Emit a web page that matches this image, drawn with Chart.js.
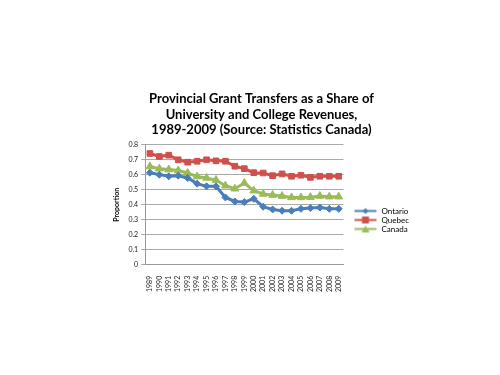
<!DOCTYPE html>
<html>
<head>
<meta charset="utf-8">
<script src="https://cdn.jsdelivr.net/npm/chart.js@4/dist/chart.umd.min.js"></script>
<style>
  html, body { margin: 0; padding: 0; background: #fff; }
  #wrap { width: 500px; height: 375px; }
</style>
</head>
<body>
<div id="wrap"><canvas id="grantChart" width="500" height="375"></canvas></div>
<script>
// years along the x axis
const years = ['1989', '1990', '1991', '1992', '1993', '1994', '1995', '1996', '1997', '1998', '1999',
  '2000', '2001', '2002', '2003', '2004', '2005', '2006', '2007', '2008', '2009'];

// share of revenues from provincial grants
const ontario = [0.614, 0.601, 0.590, 0.594, 0.579, 0.541, 0.523, 0.523, 0.449, 0.422, 0.418,
  0.440, 0.387, 0.369, 0.360, 0.360, 0.373, 0.378, 0.382, 0.373, 0.373];
const quebec = [0.742, 0.722, 0.731, 0.700, 0.684, 0.690, 0.700, 0.693, 0.690, 0.657, 0.641,
  0.614, 0.612, 0.594, 0.606, 0.590, 0.597, 0.583, 0.590, 0.590, 0.590];
const canada = [0.655, 0.641, 0.635, 0.628, 0.612, 0.588, 0.579, 0.565, 0.527, 0.507, 0.545,
  0.494, 0.472, 0.465, 0.458, 0.449, 0.449, 0.451, 0.458, 0.454, 0.454];

const yTicks = [0, 0.1, 0.2, 0.3, 0.4, 0.5, 0.6, 0.7, 0.8];

const FONT = 'Lato, "Open Sans", sans-serif';

// little line+marker swatch for the legend, like the spreadsheet one
function swatch(color, style) {
  const c = document.createElement('canvas');
  c.width = 24; c.height = 9;
  const g = c.getContext('2d');
  g.strokeStyle = color; g.lineWidth = 2;
  g.beginPath(); g.moveTo(1, 4.5); g.lineTo(23, 4.5); g.stroke();
  g.fillStyle = color;
  if (style === 'rect') {
    g.fillRect(8.5, 1, 7, 7);
  } else if (style === 'triangle') {
    g.beginPath(); g.moveTo(12, 1); g.lineTo(16, 8); g.lineTo(8, 8); g.closePath(); g.fill();
  } else {
    g.beginPath(); g.moveTo(12, 1.5); g.lineTo(15, 4.5); g.lineTo(12, 7.5); g.lineTo(9, 4.5); g.closePath(); g.fill();
  }
  return c;
}

const series = [
  { label: 'Ontario', data: ontario, color: '#4a7ebb', style: 'rectRot', radius: 3.5 },
  { label: 'Quebec', data: quebec, color: '#d0504d', style: 'rect', radius: 4 },
  { label: 'Canada', data: canada, color: '#9bbb59', style: 'triangle', radius: 4.5 }
];

// nudge the legend down to sit where the original one does
const legendNudge = {
  id: 'legendNudge',
  afterLayout(chart) {
    const lg = chart.legend;
    if (!lg) return;
    const dy = 27, dx = 9;
    lg.top += dy; lg.bottom += dy;
    lg.left += dx; lg.right += dx;
    lg.legendHitBoxes.forEach(b => { b.top += dy; b.left += dx; });
  }
};

new Chart(document.getElementById('grantChart'), {
  type: 'line',
  data: {
    labels: years,
    datasets: series.map(s => ({
      label: s.label,
      data: s.data,
      borderColor: s.color,
      backgroundColor: s.color,
      borderWidth: 3,
      pointStyle: s.style,
      pointRadius: s.radius,
      pointBorderWidth: 1,
      pointBorderColor: s.color,
      tension: 0
    }))
  },
  options: {
    responsive: false,
    animation: false,
    layout: { padding: { left: 113, right: 90, top: 91, bottom: 80 } },
    plugins: {
      title: {
        display: true,
        text: ['Provincial Grant Transfers as a Share of', 'University and College Revenues,', '1989-2009 (Source: Statistics Canada)'],
        color: '#000',
        font: { family: FONT, size: 13, weight: 'bold', lineHeight: 1.2 },
        padding: { top: 0, bottom: 7 }
      },
      legend: {
        position: 'right',
        labels: {
          color: '#222',
          font: { family: FONT, size: 8 },
          usePointStyle: true,
          pointStyleWidth: 24,
          padding: 1,
          generateLabels: chart => series.map((s, i) => ({
            text: s.label,
            pointStyle: swatch(s.color, s.style),
            fillStyle: s.color,
            strokeStyle: s.color,
            lineWidth: 0,
            datasetIndex: i,
            hidden: false
          }))
        }
      },
      tooltip: { enabled: false }
    },
    scales: {
      x: {
        offset: true,
        grid: { display: false, drawTicks: true },
        border: { color: '#999' },
        ticks: {
          color: '#222',
          font: { family: FONT, size: 7 },
          minRotation: 90,
          maxRotation: 90,
          autoSkip: false
        }
      },
      y: {
        min: 0,
        max: 0.8,
        afterBuildTicks: axis => { axis.ticks = yTicks.map(v => ({ value: v })); },
        grid: { color: '#aaa', drawTicks: true, tickLength: 4 },
        border: { color: '#999' },
        ticks: {
          color: '#222',
          font: { family: FONT, size: 7 },
          callback: v => String(Math.round(v * 10) / 10)
        },
        title: {
          display: true,
          text: 'Proportion',
          color: '#000',
          font: { family: FONT, size: 7, weight: 'bold' },
          padding: { top: 0, bottom: 4 }
        }
      }
    }
  },
  plugins: [legendNudge]
});
</script>
</body>
</html>
